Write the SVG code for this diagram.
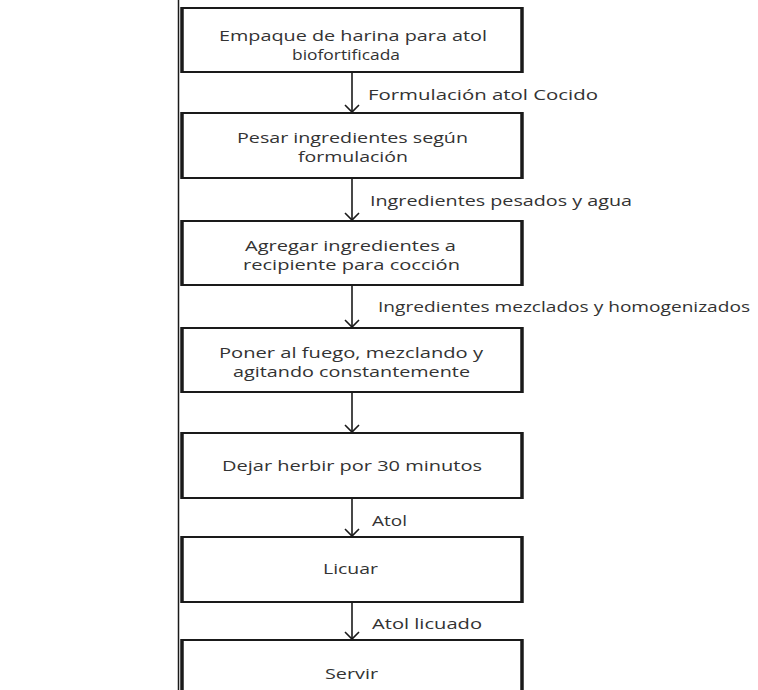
<svg xmlns="http://www.w3.org/2000/svg" width="758" height="690" viewBox="0 0 758 690">
<defs>
<style>
.box{fill:#fff;stroke:#1a1a1a;stroke-width:2}
.side{stroke:#1a1a1a;stroke-width:3.5}
.t{font-family:"Open Sans","Liberation Sans",sans-serif;font-size:14.5px;fill:#333}
.c{stroke:#1a1a1a;stroke-width:1.6;fill:none}
</style>
</defs>
<rect width="758" height="690" fill="#fff"/>
<line x1="178.5" y1="0" x2="178.5" y2="690" stroke="#1a1a1a" stroke-width="1.5"/>
<g id="connectors">
<line class="c" x1="352" y1="72" x2="352" y2="112"/>
<path class="c" d="M345,105 L352,112 L359,105"/>
<line class="c" x1="352" y1="178" x2="352" y2="220"/>
<path class="c" d="M345,213 L352,220 L359,213"/>
<line class="c" x1="352" y1="285" x2="352" y2="327"/>
<path class="c" d="M345,320 L352,327 L359,320"/>
<line class="c" x1="352" y1="392" x2="352" y2="432"/>
<path class="c" d="M345,425 L352,432 L359,425"/>
<line class="c" x1="352" y1="498" x2="352" y2="536"/>
<path class="c" d="M345,529 L352,536 L359,529"/>
<line class="c" x1="352" y1="602" x2="352" y2="639"/>
<path class="c" d="M345,632 L352,639 L359,632"/>
<text class="t" x="368" y="100" textLength="230" lengthAdjust="spacingAndGlyphs">Formulación atol Cocido</text>
<text class="t" x="370" y="206" textLength="262" lengthAdjust="spacingAndGlyphs">Ingredientes pesados y agua</text>
<text class="t" x="378" y="312" textLength="372" lengthAdjust="spacingAndGlyphs">Ingredientes mezclados y homogenizados</text>
<text class="t" x="372" y="526" textLength="35" lengthAdjust="spacingAndGlyphs">Atol</text>
<text class="t" x="372" y="629" textLength="110" lengthAdjust="spacingAndGlyphs">Atol licuado</text>
</g>
<g id="n1">
<rect class="box" x="182" y="8" width="340" height="64"/>
<line class="side" x1="182" y1="7" x2="182" y2="73"/><line class="side" x1="522" y1="7" x2="522" y2="73"/>
<text class="t" x="219" y="41" textLength="268" lengthAdjust="spacingAndGlyphs">Empaque de harina para atol</text>
<text class="t" x="292" y="60" textLength="108" lengthAdjust="spacingAndGlyphs">biofortificada</text>
</g>
<g id="n2">
<rect class="box" x="182" y="113" width="340" height="65"/>
<line class="side" x1="182" y1="112" x2="182" y2="179"/><line class="side" x1="522" y1="112" x2="522" y2="179"/>
<text class="t" x="237" y="143" textLength="231" lengthAdjust="spacingAndGlyphs">Pesar ingredientes según</text>
<text class="t" x="298" y="162" textLength="110" lengthAdjust="spacingAndGlyphs">formulación</text>
</g>
<g id="n3">
<rect class="box" x="182" y="221" width="340" height="64"/>
<line class="side" x1="182" y1="220" x2="182" y2="286"/><line class="side" x1="522" y1="220" x2="522" y2="286"/>
<text class="t" x="245" y="251" textLength="211" lengthAdjust="spacingAndGlyphs">Agregar ingredientes a</text>
<text class="t" x="243" y="270" textLength="217" lengthAdjust="spacingAndGlyphs">recipiente para cocción</text>
</g>
<g id="n4">
<rect class="box" x="182" y="328" width="340" height="64"/>
<line class="side" x1="182" y1="327" x2="182" y2="393"/><line class="side" x1="522" y1="327" x2="522" y2="393"/>
<text class="t" x="219" y="358" textLength="264" lengthAdjust="spacingAndGlyphs">Poner al fuego, mezclando y</text>
<text class="t" x="233" y="377" textLength="237" lengthAdjust="spacingAndGlyphs">agitando constantemente</text>
</g>
<g id="n5">
<rect class="box" x="182" y="433" width="340" height="65"/>
<line class="side" x1="182" y1="432" x2="182" y2="499"/><line class="side" x1="522" y1="432" x2="522" y2="499"/>
<text class="t" x="222" y="471" textLength="260" lengthAdjust="spacingAndGlyphs">Dejar herbir por 30 minutos</text>
</g>
<g id="n6">
<rect class="box" x="182" y="537" width="340" height="65"/>
<line class="side" x1="182" y1="536" x2="182" y2="603"/><line class="side" x1="522" y1="536" x2="522" y2="603"/>
<text class="t" x="323" y="574" textLength="55" lengthAdjust="spacingAndGlyphs">Licuar</text>
</g>
<g id="n7">
<rect class="box" x="182" y="640" width="340" height="60"/>
<line class="side" x1="182" y1="639" x2="182" y2="700"/><line class="side" x1="522" y1="639" x2="522" y2="700"/>
<text class="t" x="325" y="679" textLength="53" lengthAdjust="spacingAndGlyphs">Servir</text>
</g>
</svg>
